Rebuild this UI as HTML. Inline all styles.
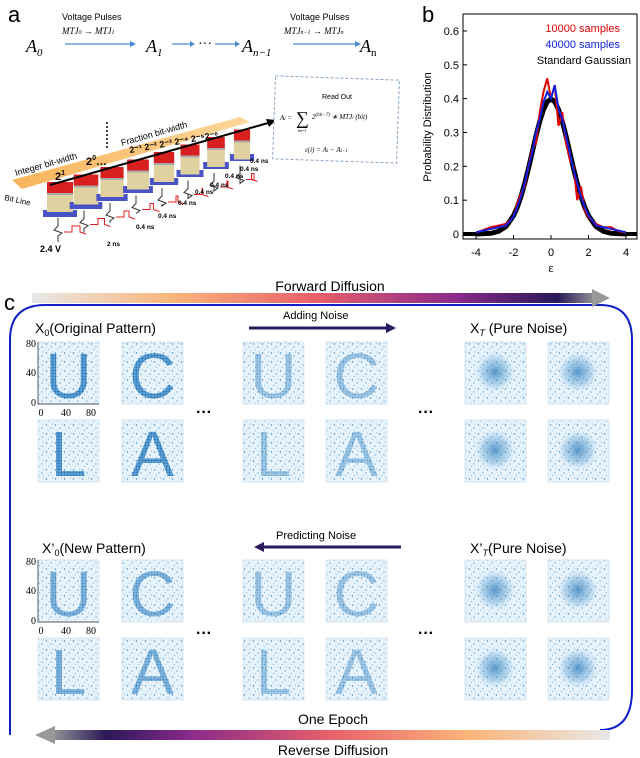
<!DOCTYPE html>
<html><head><meta charset="utf-8"><style>
body{margin:0;background:#fff;}
svg{display:block;font-family:"Liberation Sans",sans-serif;}
</style></head><body>
<svg id="fig" width="640" height="758" viewBox="0 0 640 758" xmlns="http://www.w3.org/2000/svg">
<defs>
<linearGradient id="fwd" x1="0" x2="1" y1="0" y2="0">
<stop offset="0" stop-color="#e8e8e8"/><stop offset="0.25" stop-color="#fbb57a"/><stop offset="0.5" stop-color="#e8606a"/><stop offset="0.75" stop-color="#8a2a8a"/><stop offset="0.93" stop-color="#2a1858"/><stop offset="1" stop-color="#999"/>
</linearGradient>
<linearGradient id="rev" x1="1" x2="0" y1="0" y2="0">
<stop offset="0" stop-color="#e8e8e8"/><stop offset="0.25" stop-color="#fbb57a"/><stop offset="0.5" stop-color="#e8606a"/><stop offset="0.75" stop-color="#8a2a8a"/><stop offset="0.9" stop-color="#2a1858"/><stop offset="1" stop-color="#999"/>
</linearGradient>
<linearGradient id="bar" x1="0" x2="1"><stop offset="0" stop-color="#f9b35a"/><stop offset="1" stop-color="#fcd79a"/></linearGradient>
<radialGradient id="blob"><stop offset="0" stop-color="#2a78b8" stop-opacity="0.75"/><stop offset="0.6" stop-color="#5a9fd0" stop-opacity="0.35"/><stop offset="1" stop-color="#e6f2fa" stop-opacity="0"/></radialGradient>
<pattern id="noise" width="9" height="9" patternUnits="userSpaceOnUse">
<rect width="9" height="9" fill="#e7f3fb"/><circle cx="1.5" cy="2" r="0.7" fill="#3f8cc8"/><circle cx="6" cy="5" r="0.6" fill="#3f8cc8"/><circle cx="3.5" cy="7.5" r="0.5" fill="#6aa8d8"/><circle cx="7.5" cy="1" r="0.5" fill="#6aa8d8"/>
</pattern>
<pattern id="dots" width="3" height="3" patternUnits="userSpaceOnUse">
<rect width="3" height="3" fill="#5a9ed2"/><circle cx="1.5" cy="1.5" r="1" fill="#1f6fb2"/>
</pattern>
</defs>

<!-- Panel a -->
<g>
<text x="8" y="22" font-size="22">a</text>
<g font-family="Liberation Serif, serif" font-style="italic">
<text x="26" y="52" font-size="18">A<tspan font-size="11" dy="4">0</tspan></text>
<text x="62" y="20" font-size="9" font-style="normal" font-family="Liberation Sans, sans-serif">Voltage Pulses</text>
<text x="62" y="34" font-size="9">MTJ<tspan font-size="6">0</tspan> → MTJ<tspan font-size="6">1</tspan></text>
<line x1="65" y1="44" x2="130" y2="44" stroke="#4a8ad0" stroke-width="1.2"/><polygon points="130,41 136,44 130,47" fill="#4a8ad0"/>
<text x="146" y="52" font-size="18">A<tspan font-size="11" dy="4">1</tspan></text>
<line x1="172" y1="44" x2="190" y2="44" stroke="#4a8ad0" stroke-width="1.2"/><polygon points="190,41 195,44 190,47" fill="#4a8ad0"/>
<text x="198" y="48" font-size="14" font-style="normal">···</text>
<line x1="215" y1="44" x2="235" y2="44" stroke="#4a8ad0" stroke-width="1.2"/><polygon points="235,41 240,44 235,47" fill="#4a8ad0"/>
<text x="242" y="52" font-size="18">A<tspan font-size="11" dy="4">n−1</tspan></text>
<text x="290" y="20" font-size="9" font-style="normal" font-family="Liberation Sans, sans-serif">Voltage Pulses</text>
<text x="284" y="34" font-size="9">MTJ<tspan font-size="6">n−1</tspan> → MTJ<tspan font-size="6">n</tspan></text>
<line x1="293" y1="44" x2="355" y2="44" stroke="#4a8ad0" stroke-width="1.2"/><polygon points="355,41 361,44 355,47" fill="#4a8ad0"/>
<text x="360" y="52" font-size="18">A<tspan font-size="11" dy="4" font-style="normal">n</tspan></text>
</g>
<g>
<polygon points="12,180 240,117 250,122 22,189" fill="url(#bar)"/>
<g id="cells"></g>
<line x1="50" y1="185" x2="268" y2="123" stroke="#000" stroke-width="2"/>
<polygon points="266,119 276,120 269,127" fill="#000"/>
<text x="16" y="176" font-size="9" transform="rotate(-16 16 176)">Integer bit-width</text>
<text x="122" y="146" font-size="9" transform="rotate(-16 122 146)">Fraction bit-width</text>
<line x1="107" y1="122" x2="107" y2="150" stroke="#000" stroke-dasharray="2,2" stroke-width="1.5"/>
<text x="55" y="180" font-size="11" font-weight="bold">2<tspan font-size="7" dy="-5">1</tspan></text>
<text x="86" y="165" font-size="11" font-weight="bold">2<tspan font-size="7" dy="-5">0</tspan><tspan dy="5">…</tspan></text>
<text x="130" y="153" font-size="9" font-weight="bold" transform="rotate(-10 130 153)">2⁻¹  2⁻² 2⁻³ 2⁻⁴ 2⁻⁵2⁻⁶</text>
<text x="4" y="200" font-size="8" transform="rotate(12 4 200)">Bit Line</text>
<text x="40" y="252" font-size="9" font-weight="bold">2.4 V</text>
<g font-size="6.5" font-weight="bold">
<text x="107" y="246">2 ns</text><text x="136" y="229">0.4 ns</text><text x="158" y="218">0.4 ns</text><text x="178" y="205">0.4 ns</text><text x="195" y="194">0.4 ns</text><text x="210" y="187">0.4 ns</text><text x="225" y="178">0.4 ns</text><text x="240" y="171">0.4 ns</text><text x="250" y="163">0.4 ns</text>
</g>
</g>
<g>
<rect x="274" y="78" width="124" height="83" fill="#fff" stroke="#8aa4c0" stroke-dasharray="3,2" transform="rotate(2 336 120)"/>
<text x="322" y="99" font-size="7">Read Out</text>
<text x="280" y="120" font-size="7" font-family="Liberation Serif, serif" font-style="italic">A<tspan font-size="5">i</tspan> = </text>
<text x="296" y="124" font-size="18" font-family="Liberation Serif, serif">∑</text>
<text x="312" y="119" font-size="7" font-family="Liberation Serif, serif" font-style="italic">2<tspan font-size="5" dy="-3">(bit−7)</tspan><tspan dy="3"> ∗ MTJ</tspan><tspan font-size="5">i</tspan> (bit)</text>
<text x="298" y="132" font-size="4" font-family="Liberation Serif, serif">bit=1</text>
<text x="305" y="152" font-size="7" font-family="Liberation Serif, serif" font-style="italic">ε(i) = A<tspan font-size="5">i</tspan> − A<tspan font-size="5">i−1</tspan></text>
</g>
</g>

<!-- Panel b -->
<g>
<text x="422" y="22" font-size="22">b</text>
<rect x="463" y="14" width="174" height="225" fill="#fff" stroke="#000" stroke-width="1"/>
<g id="bplot"></g>
<text transform="translate(431 127) rotate(-90)" text-anchor="middle" font-size="11">Probability Distribution</text>
<text x="551" y="272" text-anchor="middle" font-size="13" font-family="Liberation Serif, serif">ε</text>
<text x="620" y="32" text-anchor="end" font-size="11" fill="#e00000">10000 samples</text>
<text x="620" y="48" text-anchor="end" font-size="11" fill="#1020e0">40000 samples</text>
<text x="631" y="64" text-anchor="end" font-size="11" fill="#000">Standard Gaussian</text>
</g>

<!-- Panel c -->
<g>
<text x="4" y="310" font-size="22">c</text>
<path d="M10,735 L10,340 Q10,305 45,305 L600,305 Q632,305 632,340 L632,690 Q632,730 600,730" fill="none" stroke="#1020c8" stroke-width="2"/>
<rect x="32" y="293" width="565" height="10" fill="url(#fwd)"/>
<polygon points="592,289 610,298 592,307" fill="#999"/>
<text x="330" y="291" text-anchor="middle" font-size="14">Forward Diffusion</text>
<rect x="50" y="730" width="560" height="10" fill="url(#rev)"/>
<polygon points="55,726 35,735 55,744" fill="#999"/>
<text x="333" y="724" text-anchor="middle" font-size="14">One Epoch</text>
<text x="333" y="755" text-anchor="middle" font-size="14">Reverse Diffusion</text>
<text x="35" y="333" font-size="14">X<tspan font-size="9" dy="3">0</tspan><tspan dy="-3">(Original Pattern)</tspan></text>
<text x="470" y="333" font-size="14">X<tspan font-size="9" dy="3" font-style="italic">T</tspan><tspan dy="-3"> (Pure Noise)</tspan></text>
<text x="283" y="319" font-size="11">Adding Noise</text>
<line x1="249" y1="328" x2="388" y2="328" stroke="#2a1a60" stroke-width="3"/><polygon points="386,323 396,328 386,333" fill="#2a1a60"/>
<text x="42" y="553" font-size="14">X’<tspan font-size="9" dy="3">0</tspan><tspan dy="-3">(New Pattern)</tspan></text>
<text x="470" y="553" font-size="14">X’<tspan font-size="9" dy="3" font-style="italic">T</tspan><tspan dy="-3">(Pure Noise)</tspan></text>
<text x="276" y="539" font-size="11">Predicting Noise</text>
<line x1="262" y1="547" x2="401" y2="547" stroke="#2a1a60" stroke-width="3"/><polygon points="264,542 254,547 264,552" fill="#2a1a60"/>
<g id="tiles"></g>
<g font-size="16" font-weight="bold">
<text x="196" y="417">···</text><text x="418" y="417">···</text>
<text x="196" y="638">···</text><text x="418" y="638">···</text>
</g>
</g>
</svg>
<script>
// Panel b data
const xs = [-4,-3.6,-3.2,-2.8,-2.4,-2,-1.8,-1.6,-1.4,-1.2,-1,-0.8,-0.6,-0.4,-0.2,0,0.2,0.4,0.6,0.8,1,1.2,1.4,1.6,1.8,2,2.4,2.8,3.2,3.6,4];
const gaussVals = [0,0.001,0.002,0.008,0.022,0.054,0.079,0.111,0.150,0.194,0.242,0.290,0.333,0.368,0.391,0.399,0.391,0.368,0.333,0.290,0.242,0.194,0.150,0.111,0.079,0.054,0.022,0.008,0.002,0.001,0];
const red10k = [0.004,0.012,0.02,0.025,0.03,0.05,0.09,0.12,0.14,0.2,0.25,0.27,0.36,0.42,0.46,0.40,0.44,0.32,0.36,0.27,0.22,0.20,0.10,0.14,0.07,0.05,0.03,0.02,0.02,0.008,0.004];
const blue40k = [0.005,0.01,0.015,0.02,0.025,0.05,0.08,0.11,0.15,0.2,0.24,0.3,0.34,0.39,0.42,0.4,0.44,0.37,0.34,0.29,0.24,0.19,0.15,0.11,0.08,0.055,0.025,0.02,0.015,0.01,0.005];
const xTicks = [-4,-2,0,2,4];
const yTicks = [0,0.1,0.2,0.3,0.4,0.5,0.6];
const NS='http://www.w3.org/2000/svg';
const X = v => 476 + (v+4)/8*150;
const Y = v => 234 - v/0.6*203;
const bp = document.getElementById('bplot');
function mk(tag, attrs, parent){const e=document.createElementNS(NS,tag);for(const k in attrs)e.setAttribute(k,attrs[k]);parent.appendChild(e);return e;}
xTicks.forEach(t=>{
  const tl=mk('line',{x1:X(t),x2:X(t),y1:239,y2:235,stroke:'#000'},bp);
  
  
  const tx=mk('text',{x:X(t),y:256,'text-anchor':'middle','font-size':11},bp);
  tx.textContent=t;
  
  
});
yTicks.forEach(t=>{
  const tl=mk('line',{x1:463,x2:467,y1:Y(t),y2:Y(t),stroke:'#000'},bp);
  
  
  const tx=mk('text',{x:459,y:Y(t)+4,'text-anchor':'end','font-size':11},bp);
  tx.textContent=t;
  
  
});
function line(vals,color,w,name){
  const p=mk('polyline',{points:vals.map((v,i)=>X(xs[i])+','+Y(v)).join(' '),fill:'none',stroke:color,'stroke-width':w},bp);
  
  
}
const gl=mk('line',{x1:463,x2:X(-4),y1:Y(0),y2:Y(0),stroke:'#000','stroke-width':4},bp);


const gr=mk('line',{x1:X(4),x2:637,y1:Y(0),y2:Y(0),stroke:'#000','stroke-width':4},bp);


line(gaussVals,'#000',5,'gaussian-curve');
line(red10k,'#e00000',2,'series-10000-samples');
line(blue40k,'#1020e0',2,'series-40000-samples');

// MTJ cells
const cg=document.getElementById('cells');
for(let i=0;i<8;i++){
  const cx=60+i*26, cy=182-i*7.5, w=26-i*1.4;
  mk('rect',{x:cx-w/2-4,y:cy+28-i*0.5,width:w+8,height:7,fill:'#4a52c8'},cg);
  mk('rect',{x:cx-w/2,y:cy+12,width:w,height:18,fill:'#e0d2a0'},cg);
  mk('rect',{x:cx-w/2,y:cy,width:w,height:12,fill:'#d82020'},cg);
  mk('rect',{x:cx-w/2,y:cy+11,width:w,height:2,fill:'#aaa'},cg);
  const by=cy+36, bx=cx-2;
  mk('polyline',{points:`${bx},${by} ${bx},${by+8} ${bx-4},${by+12} ${bx+4},${by+15} ${bx},${by+18} ${bx},${by+24-i*2}`,fill:'none',stroke:'#333','stroke-width':1},cg);
  mk('polyline',{points:`${bx+6},${by+14} ${bx+14},${by+14} ${bx+14},${by+8} ${bx+22-i*1.5},${by+8} ${bx+22-i*1.5},${by+14} ${bx+28-i*1.5},${by+16}`,fill:'none',stroke:'#e02020','stroke-width':1},cg);
}

// Tiles
const tg=document.getElementById('tiles');
const colX=[38,122,243,326,465,548];
const rowY=[342,420,560,638];
const letters=['U','C','L','A'];
function tile(x,y,type,letter,fade,name){
  const g=mk('g',{},tg);
  
  
  mk('rect',{x:x,y:y,width:61,height:62,fill:'url(#noise)',stroke:'#c8dcea','stroke-width':0.7},g);
  if(type==='letter'){
    const t=mk('text',{x:x+30.5,y:y+56,'text-anchor':'middle','font-size':64,fill:'url(#dots)','fill-opacity':fade},g);
    t.textContent=letter;
  } else {
    mk('circle',{cx:x+30,cy:y+30,r:22,fill:'url(#blob)'},g);
  }
}
for(let r=0;r<4;r++){
  for(let c=0;c<6;c++){
    const L=letters[(r%2)*2+(c%2)];
    const type=c<4?'letter':'noise';
    const fade=c<2?(r<2?0.95:0.7):0.5;
    tile(colX[c],rowY[r],type,L,fade,'tile-r'+r+'-c'+c);
  }
}
// axes on first tiles
[[342,'top'],[560,'bottom']].forEach(([y,n])=>{
  const ax=mk('polyline',{points:`38,${y} 38,${y+62} 99,${y+62}`,fill:'none',stroke:'#556','stroke-width':1},tg);
  
  
  [['80',y+5],['40',y+34],['0',y+64]].forEach(([s,yy])=>{const t=mk('text',{x:36,y:yy,'text-anchor':'end','font-size':10,'font-family':'Liberation Serif, serif'},tg);t.textContent=s;});
  [['0',41],['40',66],['80',91]].forEach(([s,xx])=>{const t=mk('text',{x:xx,y:y+74,'text-anchor':'middle','font-size':10,'font-family':'Liberation Serif, serif'},tg);t.textContent=s;});
});
</script>
</body></html>
